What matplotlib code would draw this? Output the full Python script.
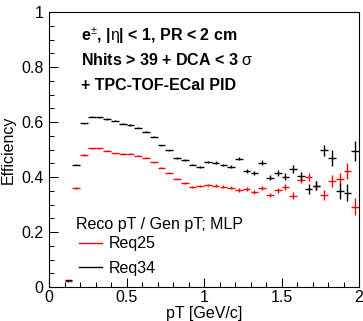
import numpy as np
import matplotlib
matplotlib.use("Agg")
import matplotlib.pyplot as plt
from matplotlib.ticker import MultipleLocator, FuncFormatter
from matplotlib.lines import Line2D

plt.rcParams['font.family'] = ['Liberation Sans', 'DejaVu Sans']
plt.rcParams['mathtext.fontset'] = 'custom'
plt.rcParams['mathtext.rm'] = 'Liberation Sans'
plt.rcParams['mathtext.it'] = 'Liberation Sans:italic'
plt.rcParams['mathtext.bf'] = 'Liberation Sans:bold'

# pT bins: lower edges, width 0.05 GeV/c
bin_lo = np.round(np.arange(0.10, 1.96, 0.05), 2)
bin_w = 0.05

eff_req25 = [0.022, 0.360, 0.480, 0.505, 0.505, 0.495, 0.487, 0.484, 0.484, 0.478,
             0.470, 0.453, 0.433, 0.416, 0.394, 0.379, 0.364, 0.368, 0.371, 0.369,
             0.365, 0.361, 0.353, 0.356, 0.347, 0.361, 0.335, 0.352, 0.363, 0.332,
             0.389, 0.399, 0.369, 0.335, 0.385, 0.392, 0.422, 0.292]
err_req25 = [0.002, 0.002, 0.002, 0.002, 0.002, 0.002, 0.002, 0.002, 0.002, 0.002,
             0.002, 0.002, 0.002, 0.002, 0.002, 0.003, 0.003, 0.004, 0.004, 0.004,
             0.005, 0.005, 0.006, 0.006, 0.007, 0.008, 0.008, 0.009, 0.010, 0.012,
             0.012, 0.015, 0.015, 0.018, 0.022, 0.022, 0.028, 0.030]

eff_req34 = [0.025, 0.444, 0.596, 0.620, 0.618, 0.611, 0.604, 0.593, 0.589, 0.580,
             0.565, 0.547, 0.516, 0.497, 0.469, 0.462, 0.445, 0.436, 0.456, 0.452,
             0.444, 0.438, 0.467, 0.421, 0.416, 0.452, 0.398, 0.414, 0.401, 0.428,
             0.404, 0.355, 0.369, 0.498, 0.470, 0.349, 0.343, 0.495]
err_req34 = [0.002, 0.002, 0.002, 0.002, 0.002, 0.002, 0.002, 0.002, 0.002, 0.002,
             0.002, 0.002, 0.002, 0.002, 0.003, 0.003, 0.003, 0.004, 0.004, 0.005,
             0.005, 0.005, 0.006, 0.007, 0.007, 0.009, 0.009, 0.010, 0.013, 0.015,
             0.015, 0.018, 0.018, 0.020, 0.030, 0.030, 0.030, 0.036]

fs = 11.5
fig = plt.figure(figsize=(3.63, 3.21), dpi=100)
ax = fig.add_axes([49 / 363, 1 - 287 / 321, 310 / 363, 275 / 321])

x = bin_lo + bin_w / 2
ax.errorbar(x, eff_req25, xerr=bin_w / 2, yerr=err_req25, fmt='none',
            ecolor='#ff0000', elinewidth=1.0, capsize=0, label='Req25')
ax.errorbar(x, eff_req34, xerr=bin_w / 2, yerr=err_req34, fmt='none',
            ecolor='black', elinewidth=1.0, capsize=0, label='Req34')

ax.set_xlim(0, 2)
ax.set_ylim(0, 1)
ax.xaxis.set_major_locator(MultipleLocator(0.5))
ax.xaxis.set_minor_locator(MultipleLocator(0.1))
ax.yaxis.set_major_locator(MultipleLocator(0.2))
ax.yaxis.set_minor_locator(MultipleLocator(0.05))
fmt = FuncFormatter(lambda v, p: '%g' % round(v, 2))
ax.xaxis.set_major_formatter(fmt)
ax.yaxis.set_major_formatter(fmt)
ax.tick_params(which='both', direction='in', top=False, right=False, labelsize=fs)
ax.tick_params(which='major', length=6.5, width=0.75, pad=4)
ax.tick_params(axis='x', which='major', pad=2.5)
ax.tick_params(which='minor', length=3.3, width=0.75)
for s in ax.spines.values():
    s.set_linewidth(0.8)

ax.set_xlabel('pT [GeV/c]', fontsize=fs)
ax.set_ylabel('Efficiency', fontsize=fs)
ax.xaxis.set_label_coords(0.5, -0.068)
ax.yaxis.set_label_coords(-0.108, 0.5)

ax.text(0.206, 0.895, r'e$^{\pm}$, |$\mathrm{\eta}$| < 1, PR < 2 cm', fontsize=fs,
        fontweight='bold', va='baseline')
ax.text(0.206, 0.807, r'Nhits > 39 + DCA < 3 $\mathrm{\sigma}$', fontsize=fs,
        fontweight='bold', va='baseline')
ax.text(0.206, 0.716, '+ TPC-TOF-ECal PID', fontsize=fs,
        fontweight='bold', va='baseline')

# legend header
ax.text(0.174, 0.229, 'Reco pT / Gen pT; MLP', fontsize=fs, va='center',
        transform=ax.get_xaxis_transform())

labels = ['Req25', 'Req34']
handles = [Line2D([], [], color='#ff0000', lw=1.0), Line2D([], [], color='black', lw=1.0)]
leg = ax.legend(handles, labels, loc='lower left',
                bbox_to_anchor=(0.06, 0.0), frameon=False, fontsize=fs,
                handlelength=1.45, handletextpad=0.45, labelspacing=0.6,
                borderpad=0.2)

fig.savefig('out.png', dpi=100)
